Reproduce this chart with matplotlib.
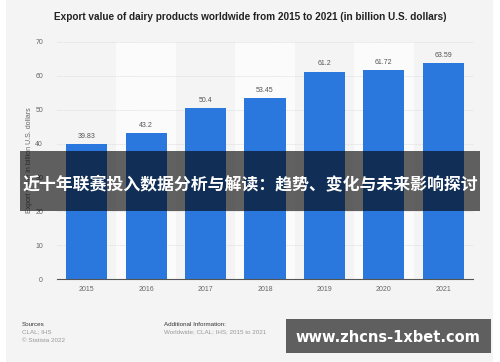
import matplotlib.pyplot as plt
from matplotlib.patches import Rectangle

years = ['2015', '2016', '2017', '2018', '2019', '2020', '2021']
values = [39.83, 43.2, 50.4, 53.45, 61.2, 61.72, 63.59]
value_labels = ['39.83', '43.2', '50.4', '53.45', '61.2', '61.72', '63.59']
yticks = [0, 10, 20, 30, 40, 50, 60, 70]

title = 'Export value of dairy products worldwide from 2015 to 2021 (in billion U.S. dollars)'
banner = '近十年联赛投入数据分析与解读：趋势、变化与未来影响探讨'
watermark = 'www.zhcns-1xbet.com'

plt.rcParams['font.family'] = ['Liberation Sans', 'DejaVu Sans']

fig = plt.figure(figsize=(5, 3.62), dpi=100)
fig.patch.set_facecolor('white')
# grey card behind everything
fig.patches.append(Rectangle((6 / 500, 0.0), 487 / 500, 1.0, transform=fig.transFigure,
                             facecolor='#f4f4f4', edgecolor='none', zorder=-10))

ax = fig.add_axes([57 / 500, (362 - 279.3) / 362, 416 / 500, (279.3 - 41.7) / 362])
ax.set_facecolor('none')

x = list(range(len(years)))
for i in x:
    if i % 2 == 1:
        ax.axvspan(i - 0.5, i + 0.5, color='#fbfbfb', zorder=0, lw=0)

bars = ax.bar(x, values, width=0.69, color='#2a78de', zorder=3)
for b, lab in zip(bars, value_labels):
    ax.text(b.get_x() + b.get_width() / 2, b.get_height() + 1.2, lab,
            ha='center', va='bottom', fontsize=5, color='#555555')

ax.set_xlim(-0.5, 6.5)
ax.set_ylim(0, 70)
ax.set_yticks(yticks)
ax.set_xticks(x)
ax.set_xticklabels(years)
ax.tick_params(axis='both', length=0, labelsize=5, labelcolor='#666666')
ax.tick_params(axis='x', pad=5)
ax.tick_params(axis='y', pad=10)
ax.grid(axis='y', color='#dddddd', lw=0.5, ls=(0, (2, 1)), zorder=1)
for s in ['top', 'right', 'left']:
    ax.spines[s].set_visible(False)
ax.spines['bottom'].set_color('#555555')
ax.spines['bottom'].set_linewidth(0.8)
ax.spines['bottom'].set_zorder(4)
ax.set_ylabel('Export value in billion U.S. dollars', fontsize=5, color='#666666')
ax.yaxis.set_label_coords(-58 / 416 + 34 / 416, 0.5)

fig.text(0.5, 1 - 17 / 362, title, ha='center', va='center', fontsize=7.2,
         fontweight='bold', color='#222222')

# footer
fig.text(22 / 500, 1 - 324 / 362, 'Sources', fontsize=4.5, color='#333333', va='center')
fig.text(22 / 500, 1 - 332 / 362, 'CLAL; IHS', fontsize=4.5, color='#999999', va='center')
fig.text(22 / 500, 1 - 340 / 362, '© Statista 2022', fontsize=4.5, color='#999999', va='center')
fig.text(164 / 500, 1 - 324 / 362, 'Additional Information:', fontsize=4.5, color='#333333', va='center')
fig.text(164 / 500, 1 - 332 / 362, 'Worldwide; CLAL; IHS; 2015 to 2021', fontsize=4.5,
         color='#999999', va='center')

# overlay banner
fig.patches.append(Rectangle((20 / 500, 1 - 211 / 362), 460 / 500, 60 / 362,
                             transform=fig.transFigure, facecolor='black', alpha=0.61,
                             edgecolor='none', zorder=20))
fig.text(0.5, 1 - 184 / 362, banner, ha='center', va='center', fontsize=12.2,
         fontweight='bold', color='white', family=['Noto Sans CJK SC', 'DejaVu Sans'], zorder=21)

# watermark box
fig.patches.append(Rectangle((286 / 500, 1 - 353 / 362), 205 / 500, 34 / 362,
                             transform=fig.transFigure, facecolor='#5f5f5f',
                             edgecolor='none', zorder=20))
fig.text(388 / 500, 1 - 337 / 362, watermark, ha='center', va='center', fontsize=10.5,
         fontweight='bold', color='white', family=['DejaVu Sans'], zorder=21)

fig.savefig('out.png', dpi=100, facecolor=fig.get_facecolor())
